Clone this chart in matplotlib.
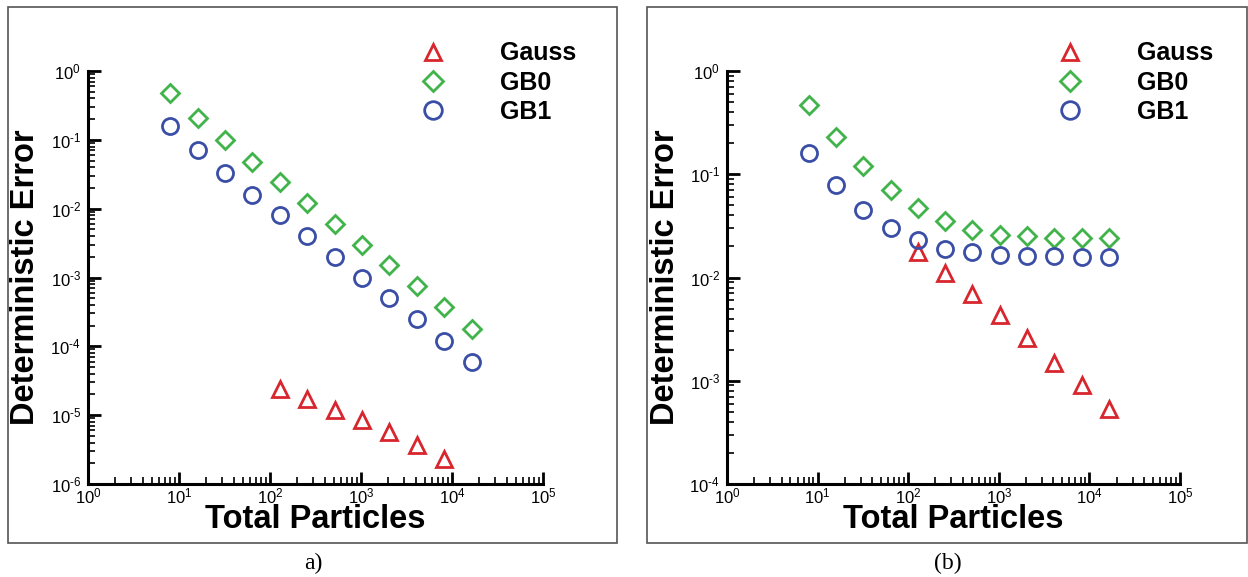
import matplotlib
matplotlib.use("Agg")
import math
import matplotlib.pyplot as plt
from matplotlib.patches import Rectangle
from matplotlib.ticker import LogLocator, FuncFormatter

plt.rcParams['font.family'] = ['Liberation Sans', 'DejaVu Sans']
plt.rcParams['mathtext.fontset'] = 'custom'
plt.rcParams['mathtext.rm'] = 'Liberation Sans'
plt.rcParams['axes.unicode_minus'] = False

# ---- data ----
particles = [8, 16, 32, 64, 128, 256, 512, 1024, 2048, 4096, 8192, 16384]

a_gauss_x = [128, 256, 512, 1024, 2048, 4096, 8192]
a_gauss = [2.4e-5, 1.7e-5, 1.2e-5, 8.5e-6, 5.6e-6, 3.7e-6, 2.3e-6]
a_gb0 = [0.48, 0.21, 0.10, 0.048, 0.024, 0.012, 0.006, 0.003, 0.0015, 0.00075, 0.00037, 0.00018]
a_gb1 = [0.16, 0.072, 0.033, 0.016, 0.008, 0.004, 0.002, 0.001, 0.0005, 0.00025, 0.00012, 0.00006]

b_gauss_x = [128, 256, 512, 1024, 2048, 4096, 8192, 16384]
b_gauss = [0.0175, 0.011, 0.0069, 0.0043, 0.0026, 0.0015, 0.0009, 0.00053]
b_gb0 = [0.47, 0.23, 0.12, 0.070, 0.047, 0.035, 0.029, 0.026, 0.025, 0.024, 0.024, 0.024]
b_gb1 = [0.16, 0.078, 0.045, 0.030, 0.023, 0.019, 0.0175, 0.0167, 0.0162, 0.016, 0.0158, 0.0158]

series_labels = ["Gauss", "GB0", "GB1"]
captions = ["a)", "(b)"]
xlabel = "Total Particles"
ylabel = "Deterministic Error"

RED = "#d8262e"
GREEN = "#40b34a"
BLUE = "#3a4ea6"

W, H = 1248, 577
fig = plt.figure(figsize=(W / 100, H / 100), dpi=100)

def px_rect(x0, x1, y0, y1):
    return [x0 / W, 1 - y1 / H, (x1 - x0) / W, (y1 - y0) / H]

def pow_fmt(v, pos):
    if v <= 0:
        return ""
    e = int(round(math.log10(v)))
    es = str(e).replace("-", "\u2010")
    return "$\\mathdefault{10^{%s}}$" % es

panels = [
    dict(ax=(88, 543, 71, 484), ylim=(1e-6, 1), gx=a_gauss_x, g=a_gauss, gb0=a_gb0, gb1=a_gb1,
         box=(8, 617, 7, 543), cap=(313, 563), leg=(433, 52)),
    dict(ax=(727, 1180, 71, 484), ylim=(1e-4, 1), gx=b_gauss_x, g=b_gauss, gb0=b_gb0, gb1=b_gb1,
         box=(647, 1247, 7, 543), cap=(948, 563), leg=(1070, 52)),
]

LEG_FS = 18
LEG_FS_PX = LEG_FS * 100 / 72
HANDLE_LEN = 1.0

for i, p in enumerate(panels):
    # border box
    x0, x1, y0, y1 = p['box']
    fig.patches.append(Rectangle((x0 / W, 1 - y1 / H), (x1 - x0) / W, (y1 - y0) / H,
                                 transform=fig.transFigure, fill=False, edgecolor="#555555", lw=1.2))
    fig.text(p['cap'][0] / W, 1 - p['cap'][1] / H, captions[i], family='Liberation Serif',
             fontsize=17, ha='center', va='center')

    ax0, ax1, ay0, ay1 = p['ax']
    ax = fig.add_axes(px_rect(ax0, ax1, ay0, ay1))
    ms = 11
    h1, = ax.plot(p['gx'], p['g'], ls='none', marker='^', ms=ms, mfc='none', mec=RED, mew=2)
    h2, = ax.plot(particles, p['gb0'], ls='none', marker='D', ms=ms * 0.8, mfc='none', mec=GREEN, mew=2)
    h3, = ax.plot(particles, p['gb1'], ls='none', marker='o', ms=ms * 1.05, mfc='none', mec=BLUE, mew=2)

    ax.set_xscale('log')
    ax.set_yscale('log')
    ax.set_xlim(1, 1e5)
    ax.set_ylim(*p['ylim'])
    ax.xaxis.set_major_locator(LogLocator(base=10, numticks=10))
    ax.yaxis.set_major_locator(LogLocator(base=10, numticks=10))
    ax.xaxis.set_minor_locator(LogLocator(base=10, subs=range(2, 10), numticks=20))
    ax.yaxis.set_minor_locator(LogLocator(base=10, subs=range(2, 10), numticks=20))
    ax.xaxis.set_major_formatter(FuncFormatter(pow_fmt))
    ax.yaxis.set_major_formatter(FuncFormatter(pow_fmt))
    for s in ['top', 'right']:
        ax.spines[s].set_visible(False)
    for s in ['left', 'bottom']:
        ax.spines[s].set_linewidth(2.2)
    ax.tick_params(which='major', direction='in', length=9, width=2, labelsize=12)
    ax.tick_params(which='minor', direction='in', length=5, width=1.2)
    ax.tick_params(axis='x', which='both', top=False, pad=2)
    ax.tick_params(axis='y', which='both', right=False, pad=5)
    for lab in ax.get_yticklabels():
        lab.set_verticalalignment('center_baseline')

    ax.set_xlabel(xlabel, fontsize=23.5, fontweight='bold', va='baseline')
    ax.xaxis.set_label_coords(0.5, -(528 - ay1) / (ay1 - ay0))
    ax.set_ylabel(ylabel, fontsize=23.5, fontweight='bold', va='center')
    ax.yaxis.set_label_coords(-62 / (ax1 - ax0), 0.5)

    lx, ly = p['leg']
    hl_px = HANDLE_LEN * LEG_FS_PX
    ax.legend([h1, h2, h3], series_labels, loc='upper left',
              bbox_to_anchor=((lx - hl_px / 2) / W, 1 - (ly - 10.5) / H), bbox_transform=fig.transFigure,
              frameon=False, prop=dict(weight='bold', size=LEG_FS), handlelength=HANDLE_LEN,
              handletextpad=(500 - 433 - hl_px / 2) / LEG_FS_PX, labelspacing=0.21,
              borderpad=0, borderaxespad=0, markerscale=1.1)

fig.savefig("out.png", dpi=100)
